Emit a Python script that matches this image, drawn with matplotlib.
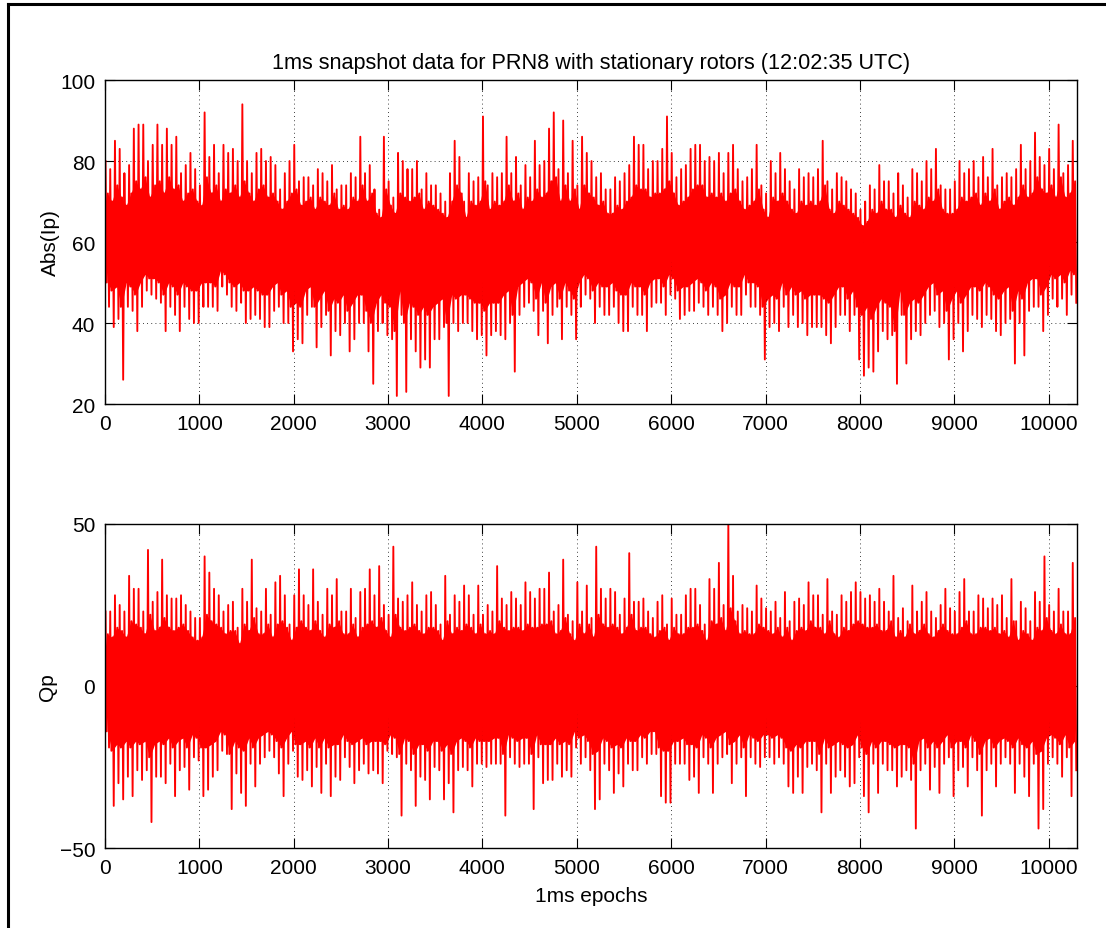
import matplotlib
matplotlib.use("Agg")
import matplotlib.pyplot as plt
import numpy as np
from matplotlib.lines import Line2D

plt.rcParams['font.family'] = ['Liberation Sans', 'DejaVu Sans']
plt.rcParams['font.size'] = 15
plt.rcParams['axes.unicode_minus'] = True

# Epoch bins of 50 samples.
# *_hi / *_lo  : largest / smallest sample in the bin
# *_hi2 / *_lo2: edge of the dense part of the trace in the bin
bin_width = 50

abs_ip_hi = [80, 78, 85, 83, 77, 79, 88, 89, 89, 80,
             84, 89, 84, 88, 84, 86, 77, 79, 82, 78,
             74, 92, 81, 84, 77, 84, 82, 83, 80, 94,
             80, 77, 82, 83, 80, 81, 79, 73, 77, 80,
             84, 75, 76, 76, 74, 78, 77, 75, 79, 73,
             74, 74, 77, 76, 86, 77, 79, 73, 68, 86,
             75, 71, 82, 80, 78, 78, 80, 73, 77, 74,
             74, 72, 70, 77, 85, 81, 70, 77, 75, 76,
             91, 74, 77, 76, 77, 86, 77, 81, 74, 79,
             76, 85, 79, 80, 88, 92, 78, 90, 77, 85,
             74, 86, 82, 80, 76, 77, 73, 73, 76, 75,
             77, 79, 86, 84, 84, 78, 80, 80, 83, 91,
             82, 76, 78, 79, 83, 84, 84, 80, 81, 80,
             82, 77, 82, 84, 78, 75, 76, 78, 84, 74,
             72, 80, 77, 82, 78, 75, 73, 78, 76, 77,
             76, 78, 85, 75, 73, 77, 76, 75, 73, 72,
             68, 70, 74, 73, 79, 75, 75, 72, 77, 74,
             71, 78, 77, 75, 80, 78, 83, 74, 73, 73,
             75, 80, 77, 78, 80, 76, 81, 76, 83, 74,
             76, 77, 76, 78, 84, 78, 80, 87, 81, 79,
             83, 78, 89, 77, 79, 85]
abs_ip_lo = [44, 39, 41, 26, 44, 43, 38, 44, 48, 47,
             46, 45, 38, 44, 42, 38, 44, 41, 40, 40,
             44, 44, 44, 43, 49, 47, 44, 43, 45, 40,
             41, 42, 41, 39, 39, 43, 44, 40, 40, 33,
             36, 35, 42, 44, 34, 39, 42, 32, 38, 37,
             40, 33, 36, 40, 40, 33, 25, 38, 40, 37,
             36, 22, 42, 23, 36, 33, 29, 31, 29, 36,
             36, 39, 22, 40, 38, 40, 40, 38, 36, 37,
             32, 37, 38, 37, 36, 40, 28, 42, 44, 45,
             43, 37, 43, 35, 42, 44, 36, 44, 42, 36,
             44, 47, 46, 40, 44, 42, 42, 44, 40, 38,
             38, 44, 42, 42, 38, 44, 45, 45, 42, 47,
             46, 41, 42, 43, 43, 45, 44, 42, 44, 42,
             38, 40, 44, 42, 42, 47, 44, 44, 42, 31,
             39, 40, 38, 44, 39, 42, 39, 40, 37, 39,
             39, 39, 37, 35, 39, 42, 42, 38, 42, 31,
             27, 29, 28, 33, 38, 36, 37, 25, 42, 30,
             36, 38, 37, 40, 42, 43, 39, 40, 31, 36,
             40, 33, 38, 42, 41, 39, 42, 41, 38, 37,
             40, 41, 30, 40, 32, 43, 44, 44, 38, 42,
             46, 44, 46, 42, 47, 45]
abs_ip_hi2 = [72, 70, 74, 71, 69, 72, 75, 73, 76, 71,
              74, 75, 72, 76, 73, 74, 70, 72, 73, 70,
              69, 76, 72, 74, 70, 73, 72, 74, 71, 75,
              72, 70, 73, 74, 71, 72, 70, 68, 70, 72,
              73, 69, 70, 71, 68, 71, 70, 69, 72, 68,
              69, 68, 71, 70, 74, 70, 72, 67, 66, 73,
              69, 67, 72, 71, 70, 71, 72, 68, 70, 69,
              68, 67, 66, 70, 74, 72, 66, 70, 69, 70,
              75, 68, 70, 69, 70, 74, 70, 72, 68, 71,
              70, 73, 71, 72, 75, 76, 70, 74, 70, 73,
              68, 74, 72, 71, 69, 70, 67, 67, 69, 68,
              70, 71, 74, 73, 73, 71, 72, 72, 73, 75,
              72, 69, 70, 71, 73, 74, 74, 71, 72, 71,
              72, 70, 72, 73, 70, 68, 69, 70, 73, 68,
              66, 71, 70, 72, 70, 68, 67, 70, 69, 70,
              69, 70, 74, 68, 67, 70, 69, 68, 67, 66,
              64, 65, 68, 67, 70, 68, 68, 66, 69, 67,
              66, 70, 69, 68, 71, 70, 73, 68, 67, 67,
              68, 71, 70, 71, 72, 69, 72, 70, 73, 68,
              70, 71, 69, 71, 74, 71, 72, 76, 73, 72,
              74, 71, 76, 71, 72, 75]
abs_ip_lo2 = [50, 48, 49, 44, 50, 49, 47, 50, 52, 51,
              51, 50, 47, 50, 49, 47, 50, 49, 48, 48,
              50, 50, 50, 49, 53, 52, 50, 49, 50, 48,
              48, 49, 48, 47, 47, 49, 50, 47, 48, 44,
              45, 44, 48, 49, 44, 46, 48, 43, 46, 45,
              47, 43, 45, 47, 47, 43, 40, 45, 47, 45,
              44, 38, 48, 40, 45, 44, 42, 44, 42, 44,
              45, 46, 40, 47, 46, 47, 47, 46, 45, 45,
              43, 45, 45, 45, 47, 48, 42, 49, 50, 51,
              50, 46, 50, 45, 49, 50, 46, 50, 48, 46,
              50, 52, 51, 48, 50, 49, 49, 50, 48, 47,
              47, 50, 49, 49, 47, 50, 51, 51, 49, 52,
              51, 48, 49, 49, 50, 51, 50, 48, 50, 49,
              46, 47, 50, 49, 49, 52, 50, 50, 49, 44,
              46, 47, 46, 50, 47, 49, 47, 48, 46, 47,
              47, 47, 46, 45, 47, 49, 49, 46, 48, 44,
              42, 44, 41, 44, 46, 45, 44, 38, 48, 42,
              45, 46, 45, 47, 49, 50, 47, 48, 43, 46,
              48, 45, 47, 49, 49, 48, 50, 49, 47, 46,
              48, 49, 43, 48, 46, 50, 51, 51, 47, 49,
              52, 51, 52, 50, 53, 52]

qp_hi = [23, 23, 28, 25, 23, 34, 30, 30, 23, 42,
         26, 29, 39, 28, 27, 27, 28, 25, 23, 21,
         21, 40, 35, 30, 28, 23, 25, 26, 18, 30,
         26, 39, 24, 23, 30, 22, 32, 34, 28, 19,
         28, 36, 28, 25, 36, 26, 22, 30, 28, 33,
         23, 23, 30, 21, 29, 30, 36, 28, 37, 25,
         22, 43, 27, 26, 28, 32, 25, 23, 28, 29,
         25, 19, 34, 22, 28, 26, 31, 28, 22, 31,
         22, 25, 23, 37, 27, 25, 29, 27, 25, 32,
         29, 27, 30, 30, 35, 23, 25, 39, 22, 20,
         32, 23, 31, 21, 43, 30, 27, 30, 29, 22,
         27, 41, 26, 26, 27, 23, 21, 26, 28, 19,
         27, 22, 22, 28, 30, 30, 25, 19, 33, 30,
         38, 25, 50, 34, 23, 25, 24, 23, 31, 27,
         24, 23, 26, 21, 29, 20, 26, 27, 25, 32,
         28, 28, 22, 33, 23, 22, 28, 26, 29, 32,
         29, 27, 28, 26, 30, 26, 23, 34, 21, 24,
         20, 31, 23, 26, 29, 23, 21, 25, 30, 24,
         23, 29, 33, 23, 23, 28, 27, 24, 27, 25,
         28, 21, 33, 20, 26, 24, 20, 29, 26, 40,
         25, 23, 30, 23, 23, 38]
qp_lo = [-19, -37, -30, -35, -28, -34, -26, -29, -26, -42,
         -28, -28, -30, -24, -34, -26, -25, -32, -22, -23,
         -34, -32, -28, -26, -20, -21, -38, -27, -33, -37,
         -24, -31, -24, -22, -20, -22, -27, -34, -24, -20,
         -28, -29, -26, -31, -25, -33, -24, -34, -28, -29,
         -22, -25, -30, -26, -24, -27, -26, -27, -30, -20,
         -21, -22, -40, -24, -26, -37, -28, -29, -35, -25,
         -26, -35, -30, -39, -26, -25, -26, -31, -24, -24,
         -25, -24, -24, -24, -40, -22, -24, -25, -24, -24,
         -38, -22, -30, -29, -29, -24, -28, -26, -28, -19,
         -24, -22, -26, -38, -35, -24, -26, -33, -27, -31,
         -24, -26, -26, -22, -24, -21, -21, -34, -36, -36,
         -24, -24, -24, -29, -28, -33, -22, -24, -33, -24,
         -22, -21, -30, -24, -22, -34, -22, -24, -25, -22,
         -22, -24, -22, -24, -31, -33, -28, -33, -25, -24,
         -26, -39, -24, -33, -28, -26, -28, -31, -30, -22,
         -34, -39, -24, -33, -24, -26, -26, -31, -28, -26,
         -29, -44, -26, -24, -32, -25, -33, -24, -22, -34,
         -26, -25, -31, -22, -26, -40, -26, -24, -31, -24,
         -22, -24, -33, -24, -28, -34, -24, -44, -38, -24,
         -22, -24, -28, -22, -34, -26]
qp_hi2 = [16, 15, 18, 17, 15, 20, 19, 18, 16, 22,
          17, 18, 21, 18, 17, 18, 19, 17, 15, 14,
          15, 22, 20, 19, 18, 16, 17, 17, 13, 19,
          17, 21, 16, 16, 19, 15, 19, 20, 18, 14,
          18, 20, 18, 17, 20, 17, 15, 19, 18, 20,
          16, 16, 19, 15, 18, 19, 20, 18, 21, 17,
          15, 22, 18, 17, 18, 19, 17, 16, 18, 18,
          17, 14, 20, 16, 18, 17, 19, 18, 16, 19,
          16, 17, 16, 20, 18, 17, 18, 18, 17, 19,
          18, 18, 19, 19, 20, 16, 17, 21, 16, 14,
          19, 16, 19, 15, 22, 19, 18, 19, 18, 16,
          18, 22, 17, 18, 18, 16, 15, 17, 18, 14,
          18, 16, 16, 18, 18, 19, 17, 14, 20, 19,
          21, 17, 24, 20, 16, 17, 16, 16, 19, 18,
          17, 16, 18, 15, 18, 14, 17, 18, 17, 20,
          18, 18, 16, 20, 16, 15, 18, 17, 19, 20,
          19, 18, 18, 19, 17, 17, 20, 15, 17, 15,
          19, 16, 17, 19, 16, 15, 17, 19, 17, 16,
          16, 18, 20, 16, 16, 18, 18, 17, 18, 16,
          17, 15, 20, 14, 17, 16, 14, 18, 17, 21,
          17, 16, 19, 16, 16, 21]
qp_lo2 = [-14, -20, -18, -19, -17, -19, -17, -18, -17, -22,
          -18, -17, -18, -16, -19, -17, -16, -19, -15, -16,
          -19, -19, -18, -17, -14, -15, -21, -17, -19, -20,
          -16, -19, -16, -15, -14, -15, -17, -19, -16, -14,
          -18, -18, -17, -19, -16, -19, -16, -19, -18, -18,
          -15, -17, -18, -17, -16, -18, -17, -17, -17, -18,
          -15, -16, -21, -16, -17, -21, -18, -18, -20, -17,
          -17, -20, -18, -21, -17, -16, -17, -19, -16, -17,
          -17, -17, -16, -16, -21, -15, -16, -17, -16, -16,
          -21, -15, -18, -18, -18, -16, -18, -17, -18, -14,
          -16, -15, -17, -21, -20, -16, -17, -19, -18, -19,
          -16, -17, -17, -15, -16, -14, -14, -19, -20, -20,
          -17, -17, -16, -18, -18, -19, -15, -16, -19, -16,
          -15, -14, -18, -17, -15, -19, -15, -16, -17, -15,
          -15, -16, -15, -16, -19, -20, -18, -19, -17, -17,
          -17, -21, -16, -19, -18, -17, -18, -19, -18, -15,
          -19, -21, -17, -19, -17, -17, -18, -19, -18, -18,
          -19, -24, -17, -16, -19, -17, -19, -17, -15, -19,
          -17, -17, -19, -15, -17, -21, -17, -16, -19, -17,
          -16, -17, -19, -16, -18, -19, -17, -21, -20, -16,
          -15, -16, -18, -15, -19, -17]


def trace(hi, lo2, hi2, lo):
    """
    Lay the four per-bin values out as consecutive samples
    """
    n = len(hi)
    x = np.repeat(np.arange(n) * bin_width, 4) + np.tile([6, 18, 31, 43], n)
    y = np.column_stack([hi, lo2, hi2, lo]).ravel()
    return x, y


def draw_panel(ax, hi, lo2, hi2, lo):
    """
    Solid band for the dense part, then the sample trace over it
    """
    centres = np.arange(len(hi)) * bin_width + bin_width / 2
    ax.fill_between(centres, lo2, hi2, color='#ff0000', linewidth=0)
    x, y = trace(hi, lo2, hi2, lo)
    ax.plot(x, y, color='#ff0000', linewidth=1.35)


def style_axes(ax, ylim, yticks):
    """
    Box, inward ticks and dotted grid
    """
    ax.set_xlim(0, 10300)
    ax.set_ylim(*ylim)
    ax.set_xticks(np.arange(0, 10001, 1000))
    ax.set_yticks(yticks)
    ax.tick_params(direction='in', top=True, right=True, length=7, width=0.8, pad=7)
    ax.grid(True, color='black', linestyle=(0, (1, 4)), linewidth=0.6)
    for s in ax.spines.values():
        s.set_linewidth(1.0)


fig = plt.figure(figsize=(11.06, 9.29), dpi=100)

# Top panel: Abs(Ip)
ax1 = fig.add_axes([0.0949, 0.5640, 0.8788, 0.3488])
draw_panel(ax1, abs_ip_hi, abs_ip_lo2, abs_ip_hi2, abs_ip_lo)
style_axes(ax1, (20, 100), [20, 40, 60, 80, 100])
ax1.set_ylabel('Abs(Ip)', labelpad=0)
ax1.set_title('1ms snapshot data for PRN8 with stationary rotors (12:02:35 UTC)',
              fontsize=15.6, pad=9)

# Bottom panel: Qp
ax2 = fig.add_axes([0.0949, 0.0861, 0.8788, 0.3488])
draw_panel(ax2, qp_hi, qp_lo2, qp_hi2, qp_lo)
style_axes(ax2, (-50, 50), [-50, 0, 50])
ax2.set_ylabel('Qp', labelpad=2)
ax2.set_xlabel('1ms epochs', labelpad=6.5)

# Frame around the figure
fig.add_artist(Line2D([0.0068, 0.0068], [0, 0.9946], color='black', linewidth=2.2))
fig.add_artist(Line2D([0.0068, 1.0], [0.9946, 0.9946], color='black', linewidth=2.2))

fig.savefig('out.png', dpi=100)
